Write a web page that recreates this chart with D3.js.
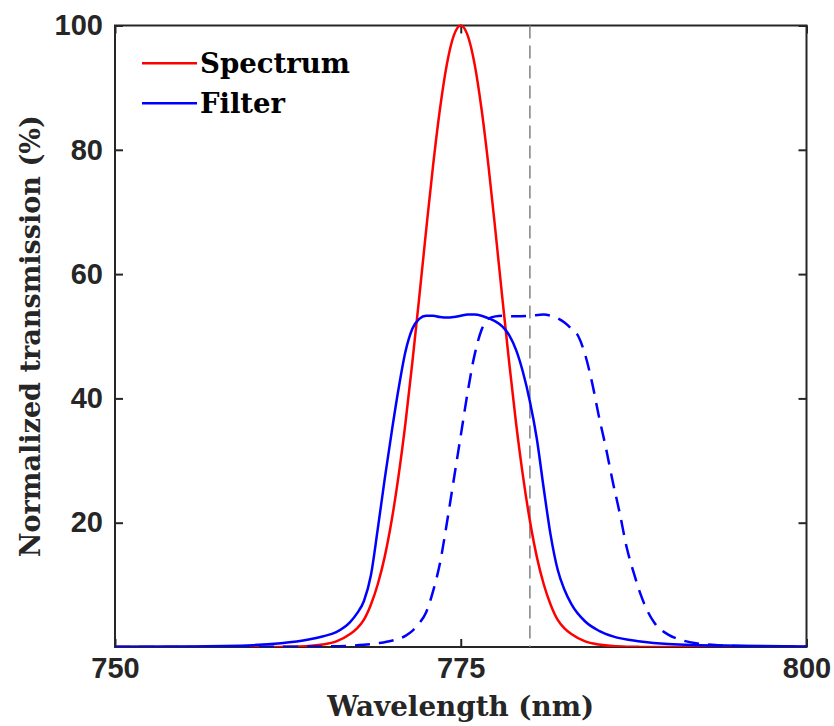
<!DOCTYPE html>
<html lang="en">
  <head>
    <meta charset="UTF-8" />
    <title>Spectrum and filter transmission</title>
    <script src="https://d3js.org/d3.v7.min.js"></script>
    <style>
      body {
        margin: 0;
        background: #fff;
      }
      .tick-label text {
        font-family: "Liberation Sans", Arial, sans-serif;
        font-weight: bold;
        font-size: 29px;
        fill: #262626;
      }
      .title {
        font-family: "DejaVu Serif", serif;
        font-weight: bold;
        font-size: 27px;
        fill: #262626;
      }
    </style>
  </head>
  <body>
    <div id="chart"></div>

    <script>
      // x ticks (nm) and y ticks (%)
      const xTicks = [750, 775, 800];
      const yTicks = [20, 40, 60, 80, 100];
      const markerWavelength = 780;

      // red curve: laser spectrum
      const specWl = [750, 760, 762, 763, 764, 765, 766, 767, 767.5, 768, 768.5, 769, 769.5, 770, 770.5, 771, 771.5, 772, 772.5, 773, 773.5, 774, 774.5, 775, 775.5, 776, 776.5, 777, 777.5, 778, 778.5, 779, 779.5, 780, 780.5, 781, 781.5, 782, 782.5, 783, 784, 785, 786, 787, 788, 790, 800];
      const specVal = [0, 0, 0.02, 0.05, 0.15, 0.4, 0.9, 2.1, 3.0, 4.4, 6.8, 10.1, 14.5, 20.3, 27.5, 36.0, 45.8, 56.3, 67.1, 77.5, 86.6, 93.8, 98.4, 100, 98.4, 93.8, 86.6, 77.5, 67.1, 56.3, 45.8, 36.0, 27.5, 20.3, 14.5, 10.1, 6.8, 4.4, 3.0, 2.1, 0.9, 0.4, 0.15, 0.05, 0.02, 0, 0];

      // blue solid: filter
      const filterWl = [750, 755, 760, 762, 764, 765, 766, 767, 767.5, 768, 768.5, 769, 769.5, 770, 770.5, 771, 771.5, 772, 772.5, 773, 773.5, 774, 774.5, 775, 775.5, 776, 776.5, 777, 777.5, 778, 778.5, 779, 779.5, 780, 780.5, 781, 781.5, 782, 782.5, 783, 784, 785, 786, 788, 790, 795, 800];
      const filterVal = [0.05, 0.1, 0.3, 0.6, 1.2, 1.7, 2.4, 4.0, 5.4, 7.4, 11.5, 19, 27, 34.5, 41.5, 47.5, 51.2, 52.8, 53.3, 53.3, 53.1, 53.0, 53.1, 53.3, 53.5, 53.5, 53.3, 52.9, 52.4, 51.6, 50.2, 47.8, 44.2, 39.5, 33.5, 25.5, 18, 12.5, 9.2, 6.9, 4.1, 2.6, 1.7, 0.9, 0.5, 0.2, 0.1];

      // blue dashed: tilted filter
      const tiltedWl = [750, 760, 765, 767, 768, 769, 770, 771, 771.5, 772, 772.5, 773, 773.5, 774, 774.5, 775, 775.5, 776, 776.5, 777, 777.5, 778, 779, 780, 781, 781.5, 782, 782.5, 783, 783.5, 784, 784.5, 785, 785.5, 786, 786.5, 787, 787.5, 788, 788.5, 789, 790, 791, 792, 794, 796, 800];
      const tiltedVal = [0, 0.02, 0.1, 0.2, 0.35, 0.6, 1.0, 1.8, 2.6, 3.8, 5.6, 9, 13.5, 20, 27, 34, 41, 47, 51, 52.8, 53.2, 53.3, 53.2, 53.3, 53.5, 53.3, 52.9, 52.2, 51.2, 50, 47, 42.5, 37, 32, 26.5, 21.5, 16, 12, 8.5, 5.8, 3.9, 2.0, 1.1, 0.6, 0.25, 0.1, 0.05];

      const width = 834,
        height = 726;
      const margin = { top: 25.5, right: 27.5, bottom: 79, left: 115 };
      const innerW = width - margin.left - margin.right;
      const innerH = height - margin.top - margin.bottom;
      const ink = "#262626";

      const svg = d3
        .select("#chart")
        .append("svg")
        .attr("width", width)
        .attr("height", height);

      const g = svg
        .append("g")
        .attr("transform", `translate(${margin.left},${margin.top})`);

      const x = d3.scaleLinear().domain([750, 800]).range([0, innerW]);
      const y = d3.scaleLinear().domain([0, 100]).range([innerH, 0]);

      g.append("clipPath")
        .attr("id", "plot-clip")
        .append("rect")
        .attr("x", -2)
        .attr("y", -2)
        .attr("width", innerW + 4)
        .attr("height", innerH + 2);

      // axes with inward ticks
      function styleAxis(sel) {
        sel.select(".domain").remove();
        sel.selectAll(".tick line").attr("stroke", ink).attr("stroke-width", 2);
      }

      g.append("g")
        .attr("class", "tick-label")
        .attr("transform", `translate(0,${innerH})`)
        .call(d3.axisBottom(x).tickValues(xTicks).tickSizeInner(-8).tickSizeOuter(0).tickPadding(10))
        .call(styleAxis);

      g.append("g")
        .call(d3.axisTop(x).tickValues(xTicks).tickSizeInner(-8).tickSizeOuter(0).tickFormat(""))
        .call(styleAxis);

      g.append("g")
        .attr("class", "tick-label")
        .call(d3.axisLeft(y).tickValues(yTicks).tickSizeInner(-8).tickSizeOuter(0).tickPadding(12))
        .call(styleAxis);

      g.append("g")
        .attr("transform", `translate(${innerW},0)`)
        .call(d3.axisRight(y).tickValues(yTicks).tickSizeInner(-8).tickSizeOuter(0).tickFormat(""))
        .call(styleAxis);

      g.append("rect")
        .attr("width", innerW)
        .attr("height", innerH)
        .attr("fill", "none")
        .attr("stroke", ink)
        .attr("stroke-width", 2);

      // vertical marker
      g.append("line")
        .attr("x1", x(markerWavelength))
        .attr("x2", x(markerWavelength))
        .attr("y1", y(100))
        .attr("y2", y(0))
        .attr("stroke", "#808080")
        .attr("stroke-width", 1.5)
        .attr("stroke-dasharray", "13,7");

      const line = d3
        .line()
        .x((d) => x(d[0]))
        .y((d) => y(d[1]))
        .curve(d3.curveMonotoneX);

      const series = [
        { wl: specWl, val: specVal, color: "#ff0000", dash: null },
        { wl: filterWl, val: filterVal, color: "#0000ff", dash: null },
        { wl: tiltedWl, val: tiltedVal, color: "#0000ff", dash: "15,9" },
      ];

      const plot = g.append("g").attr("clip-path", "url(#plot-clip)");
      series.forEach((s) => {
        plot
          .append("path")
          .datum(d3.zip(s.wl, s.val))
          .attr("d", line)
          .attr("fill", "none")
          .attr("stroke", s.color)
          .attr("stroke-width", 2.5)
          .attr("stroke-dasharray", s.dash);
      });

      // legend
      const legendItems = [
        { label: "Spectrum", color: "#ff0000", y: 63.3, len: 150 },
        { label: "Filter", color: "#0000ff", y: 103.3, len: 85 },
      ];
      legendItems.forEach((d) => {
        svg
          .append("line")
          .attr("x1", 142)
          .attr("x2", 197)
          .attr("y1", d.y)
          .attr("y2", d.y)
          .attr("stroke", d.color)
          .attr("stroke-width", 2.5);
        svg
          .append("text")
          .attr("class", "title")
          .attr("x", 200)
          .attr("y", d.y + 9.5)
          .attr("textLength", d.len)
          .attr("lengthAdjust", "spacingAndGlyphs")
          .style("fill", "#000")
          .text(d.label);
      });

      // axis titles
      svg
        .append("text")
        .attr("class", "title")
        .attr("x", margin.left + innerW / 2)
        .attr("y", 716)
        .attr("text-anchor", "middle")
        .attr("textLength", 267)
        .attr("lengthAdjust", "spacingAndGlyphs")
        .text("Wavelength (nm)");

      svg
        .append("text")
        .attr("class", "title")
        .attr("transform", `translate(40,${margin.top + innerH / 2}) rotate(-90)`)
        .attr("text-anchor", "middle")
        .attr("textLength", 442)
        .attr("lengthAdjust", "spacingAndGlyphs")
        .text("Normalized transmission (%)");
    </script>
  </body>
</html>
